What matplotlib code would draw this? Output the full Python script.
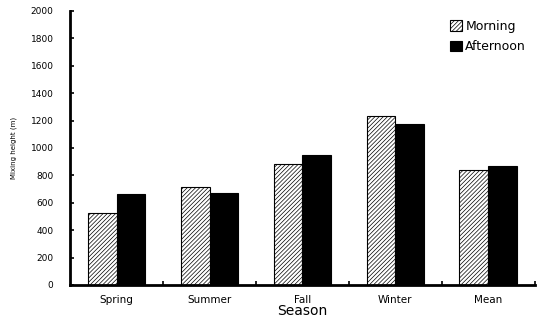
import matplotlib
matplotlib.use("Agg")
import matplotlib.pyplot as plt
import numpy as np

seasons = ["Spring", "Summer", "Fall", "Winter", "Mean"]
morning = [525, 715, 885, 1230, 840]
afternoon = [665, 670, 950, 1175, 865]
y_ticks = [0, 200, 400, 600, 800, 1000, 1200, 1400, 1600, 1800, 2000]

plt.rcParams["hatch.linewidth"] = 0.5
plt.rcParams["hatch.color"] = "#666666"

fig = plt.figure(figsize=(5.44, 3.22), dpi=100)
ax = fig.add_axes([0.129, 0.115, 0.854, 0.851])

x = np.arange(len(seasons))
w = 0.31
ax.bar(x - w / 2, morning, width=w, facecolor="white", edgecolor="black",
       hatch="////////", linewidth=0.8, label="Morning")
ax.bar(x + w / 2, afternoon, width=w, facecolor="black", edgecolor="black",
       linewidth=0.8, label="Afternoon")

ax.set_xlim(-0.5, 4.5)
ax.set_ylim(0, 2000)
ax.set_yticks(y_ticks)
ax.set_yticklabels([str(v) for v in y_ticks], fontsize=6.5)
ax.set_xticks(x)
ax.set_xticklabels(seasons, fontsize=7.5)
ax.set_xticks(np.arange(0.5, 4.6, 1.0), minor=True)
ax.tick_params(axis="x", which="major", length=0, pad=7)
ax.tick_params(axis="x", which="minor", direction="in", length=3, width=1.2)
ax.tick_params(axis="y", direction="in", length=3, width=1.2, pad=12)

for s in ["top", "right"]:
    ax.spines[s].set_visible(False)
ax.spines["left"].set_linewidth(2)
ax.spines["bottom"].set_linewidth(2)

ax.set_xlabel("Season", fontsize=10, labelpad=-0.5)
ax.set_ylabel("Mixing height (m)", fontsize=5, labelpad=10)

leg = ax.legend(loc="upper right", bbox_to_anchor=(1.0, 1.0), frameon=False,
                fontsize=9, handlelength=0.9, handleheight=0.9,
                handletextpad=0.3, labelspacing=0.6, borderaxespad=0.3)

fig.savefig("out.png", dpi=100)
